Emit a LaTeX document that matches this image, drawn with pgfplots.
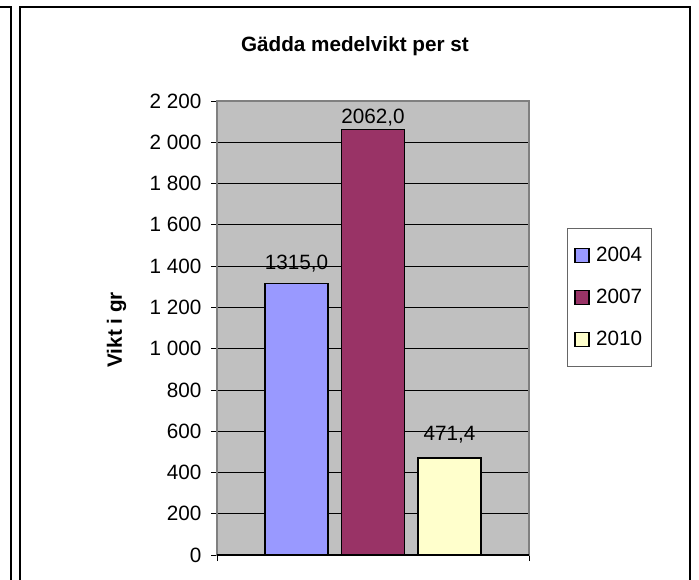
\documentclass[border=0pt]{standalone}
\usepackage{pgfplots}
\pgfplotsset{compat=1.18}
\usepackage{fontspec}
\setmainfont{Liberation Sans}
\definecolor{plotbg}{HTML}{C0C0C0}
\definecolor{c2004}{HTML}{9999FF}
\definecolor{c2007}{HTML}{993366}
\definecolor{c2010}{HTML}{FFFFCC}
\newcommand{\fz}{\fontsize{20.7}{24}\selectfont}
\begin{document}
\begin{tikzpicture}
\path[use as bounding box] (0pt,0pt) rectangle (699pt,579pt);
% frames
\draw[line width=2pt] (0pt,572pt) -- (10.5pt,572pt) -- (10.5pt,-5pt);
\draw[line width=2pt] (19.5pt,-5pt) -- (19.5pt,572pt) -- (690pt,572pt) -- (690pt,-5pt);
\begin{axis}[
  at={(217pt,24pt)}, anchor=south west,
  scale only axis, width=312pt, height=454pt,
  ybar, bar width=0.82, bar shift=0pt,
  xmin=-0.039, xmax=4.039,
  ymin=0, ymax=2200,
  ytick={0,200,...,2200},
  xtick={-0.039,4.039}, xticklabels={,},
  xtick pos=bottom, ytick pos=left,
  tick align=outside, major tick length=6pt,
  tick style={black, line width=0.8pt},
  axis line style={draw=gray, line width=1.6pt},
  axis background/.style={fill=plotbg},
  ymajorgrids, grid style={black, line width=0.8pt},
  tick label style={font=\fz},
  yticklabel style={xshift=-6pt, /pgf/number format/assume math mode=true, /pgf/number format/1000 sep={\ }},
  ylabel={\bfseries Vikt i gr},
  ylabel style={font=\fz, at={(axis description cs:-0.322,0.496)}, anchor=center},
  title={Gädda medelvikt per st},
  title style={font=\fz\bfseries, at={(axis description cs:0.442,1.108)}, anchor=center},
  nodes near coords,
  nodes near coords style={font=\fz, anchor=base, black,
    /pgf/number format/fixed, /pgf/number format/fixed zerofill, /pgf/number format/precision=1,
    /pgf/number format/use comma, /pgf/number format/1000 sep={}, /pgf/number format/assume math mode=true},
  legend image code/.code={\draw[#1, draw=black, line width=1.6pt] (0pt,-7pt) rectangle (14pt,7pt);
    \path (18pt,0pt);},
  legend style={at={(axis description cs:1.122,0.720)}, anchor=north west,
    draw=gray!80!black, line width=0.8pt, fill=white, font=\fz,
    inner xsep=7pt, inner ysep=17pt, row sep=22pt, cells={anchor=west}},
]
\addplot[fill=c2004, draw=black, line width=1.6pt,
  every node near coord/.append style={yshift=14pt}] coordinates {(1,1315.0)};
\addplot[fill=c2007, draw=black, line width=1.6pt,
  every node near coord/.append style={yshift=5.5pt}] coordinates {(2,2062.0)};
\addplot[fill=c2010, draw=black, line width=1.6pt,
  every node near coord/.append style={yshift=17pt}] coordinates {(3,471.4)};
\legend{2004,2007,2010}
\draw[black, line width=1.2pt] (rel axis cs:0,0) -- (rel axis cs:1,0);
\end{axis}
\end{tikzpicture}
\end{document}
